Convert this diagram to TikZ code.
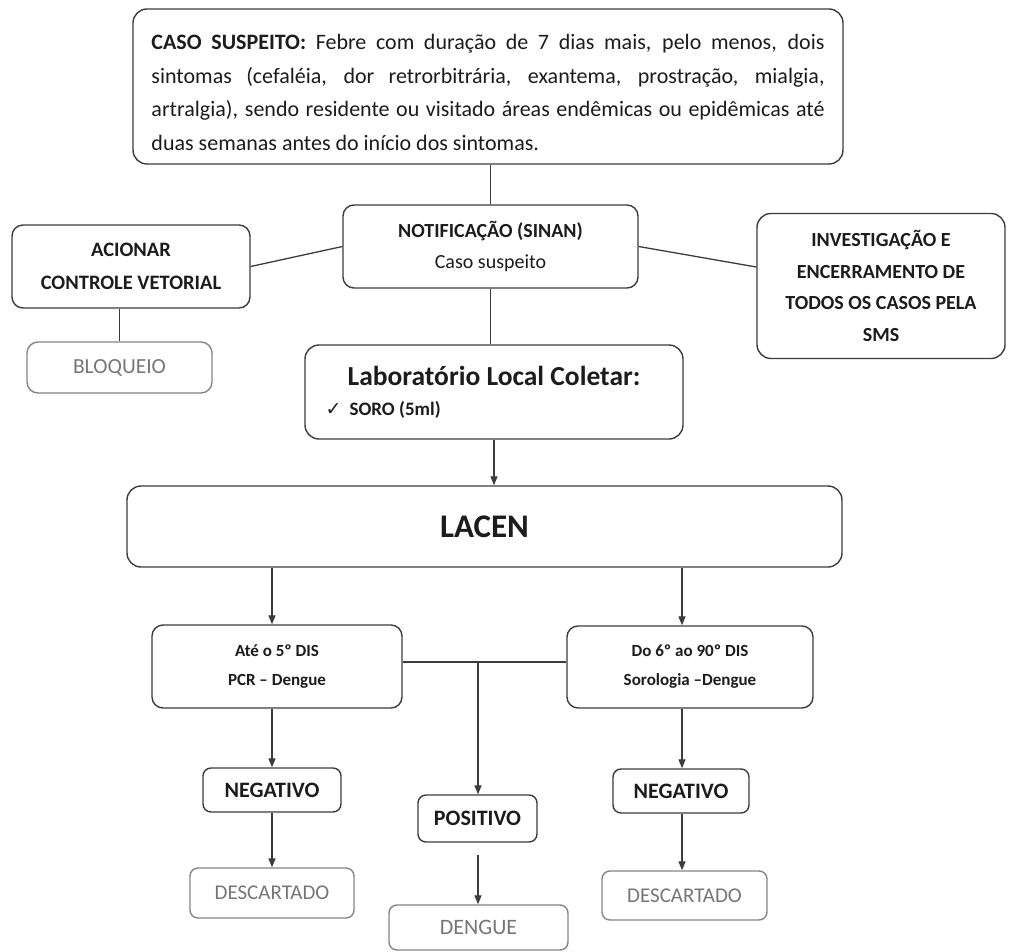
\documentclass[tikz,border=0pt]{standalone}
\usepackage{fontspec}
\setmainfont{Carlito}
\newfontfamily\symfont{DejaVu Sans}
\usetikzlibrary{arrows.meta}
\definecolor{ink}{HTML}{1C1C1C}
\definecolor{edge}{HTML}{3C3C3C}
\definecolor{soft}{HTML}{767676}
\definecolor{softedge}{HTML}{858585}
\newcommand\fsz[2]{\fontsize{#1bp}{#2bp}\selectfont}
\tikzset{
  box/.style={draw=edge, line width=1.4bp, rounded corners=11bp, fill=white,
    inner sep=0pt, align=center, text=ink},
  softbox/.style={box, draw=softedge, text=soft},
  link/.style={draw=edge, line width=1.3bp},
  arr/.style={link, -{Triangle[length=9bp,width=7bp]}}
}
\begin{document}
\begin{tikzpicture}[x=1bp, y=-1bp]
\useasboundingbox[fill=white] (0,0) rectangle (1010,952);

\node[box, rounded corners=14bp, minimum width=710bp, minimum height=155bp,
  align=left, font=\fsz{22}{33.5}] (caso) at (488,86.5)
{\makebox[673bp][s]{\rule{0pt}{27bp}\textbf{CASO SUSPEITO:} Febre com duração de 7 dias mais, pelo menos, dois}\\
\makebox[673bp][s]{sintomas (cefaléia, dor retrorbitrária, exantema, prostração, mialgia,}\\
\makebox[673bp][s]{artralgia), sendo residente ou visitado áreas endêmicas ou epidêmicas até}\\
duas semanas antes do início dos sintomas.};

\node[box, minimum width=295bp, minimum height=83bp, font=\fsz{20}{31}] (notif) at (490.5,246.5)
{\textbf{NOTIFICAÇÃO (SINAN)}\\Caso suspeito};

\node[box, minimum width=238bp, minimum height=83bp, font=\fsz{20.5}{33}\bfseries] (acionar) at (131,266.5)
{ACIONAR\\CONTROLE VETORIAL};

\node[box, rounded corners=14bp, minimum width=248bp, minimum height=145bp, font=\fsz{20}{31.5}\bfseries] (inv) at (881,286)
{INVESTIGAÇÃO E\\ENCERRAMENTO DE\\TODOS OS CASOS PELA\\SMS};

\node[softbox, minimum width=185bp, minimum height=51bp, font=\fsz{21.5}{24}] (bloq) at (119.5,367.5) {BLOQUEIO};

\node[box, rounded corners=14bp, minimum width=378bp, minimum height=94bp, align=left, font=\fsz{27.5}{30}\bfseries] (lab) at (494,392)
{Laboratório Local Coletar:\\
\hspace*{-22bp}{\fsz{19}{24}{\symfont\mdseries ✓}\hspace{8bp}SORO (5ml)}};

\node[box, rounded corners=14bp, minimum width=715bp, minimum height=81bp, font=\fsz{33}{38}\bfseries] (lacen) at (484.5,526.5) {LACEN};

\node[box, minimum width=250bp, minimum height=83bp, font=\fsz{17}{28.5}\bfseries] (pcr) at (277,666.5)
{Até o 5º DIS\\PCR – Dengue};

\node[box, minimum width=246bp, minimum height=82bp, font=\fsz{17}{29}\bfseries] (soro) at (690,667)
{Do 6º ao 90º DIS\\Sorologia –Dengue};

\node[box, rounded corners=8bp, minimum width=138bp, minimum height=44bp, font=\fsz{22}{24}\bfseries] (neg1) at (272,790) {NEGATIVO};
\node[box, rounded corners=8bp, minimum width=119bp, minimum height=47bp, font=\fsz{22}{24}\bfseries] (pos) at (477.5,818.5) {POSITIVO};
\node[box, rounded corners=8bp, minimum width=136bp, minimum height=44bp, font=\fsz{22}{24}\bfseries] (neg2) at (681,791) {NEGATIVO};

\node[softbox, rounded corners=8bp, minimum width=164bp, minimum height=50bp, font=\fsz{21}{24}] (desc1) at (272,893) {DESCARTADO};
\node[softbox, rounded corners=8bp, minimum width=179bp, minimum height=45bp, font=\fsz{22}{24}] (dengue) at (478.5,927.5) {DENGUE};
\node[softbox, rounded corners=8bp, minimum width=165bp, minimum height=49bp, font=\fsz{21}{24}] (desc2) at (684.5,895.5) {DESCARTADO};

\coordinate (xl) at (272,0);
\coordinate (xr) at (682,0);
\coordinate (xm) at (478,0);
\coordinate (yj) at (0,662);

\draw[link] (notif.north |- caso.south) -- (notif.north);
\draw[link] (notif.west) -- (acionar.east);
\draw[link] (notif.east) -- ([yshift=19bp]inv.west);
\draw[link] (acionar.south -| bloq.north) -- (bloq.north);
\draw[link] (notif.south) -- (notif.south |- lab.north);
\draw[arr] (lab.south) -- (lab.south |- lacen.north);
\draw[arr] (lacen.south -| xl) -- (pcr.north -| xl);
\draw[arr] (lacen.south -| xr) -- (soro.north -| xr);
\draw[link] (pcr.east |- yj) -- (soro.west |- yj);
\draw[arr] (xm |- yj) -- (pos.north -| xm);
\draw[arr] (pcr.south -| xl) -- (neg1.north -| xl);
\draw[arr] (neg1.south -| xl) -- (desc1.north -| xl);
\draw[arr] (soro.south -| xr) -- (neg2.north -| xr);
\draw[arr] (neg2.south -| xr) -- (desc2.north -| xr);
\draw[arr, shorten <=12bp] (pos.south -| xm) -- (dengue.north -| xm);
\end{tikzpicture}
\end{document}
